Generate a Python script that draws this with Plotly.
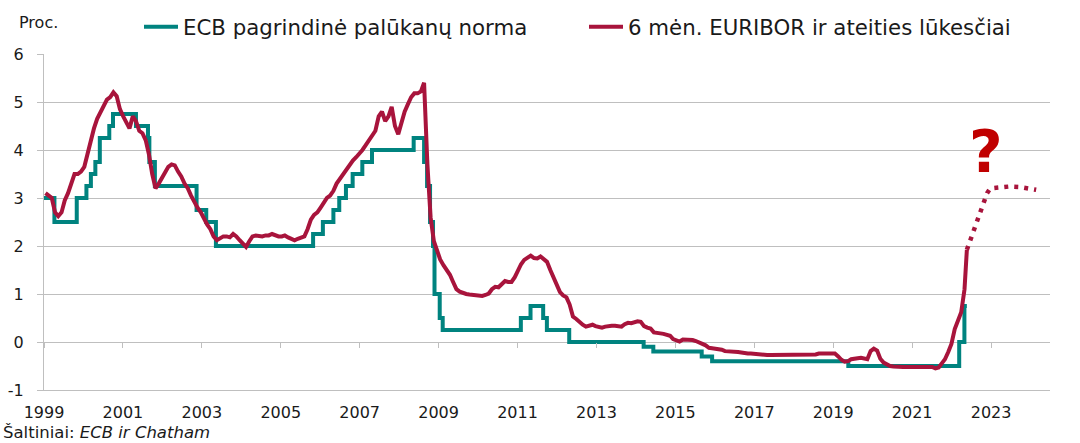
import plotly.graph_objects as go

# ---------------- DATA ----------------
# ECB policy rate: dates of change and new level (step series)
ecb_dates = [
    "1999-01-01", "1999-04-09", "1999-11-05", "2000-02-04", "2000-03-17", "2000-04-28",
    "2000-06-09", "2000-09-06", "2000-10-11", "2001-05-15", "2001-09-05", "2001-09-18",
    "2001-11-09", "2002-12-06", "2003-03-07", "2003-06-06", "2005-12-06", "2006-03-08",
    "2006-06-15", "2006-08-09", "2006-10-11", "2006-12-13", "2007-03-14", "2007-06-13",
    "2008-07-09", "2008-10-15", "2008-11-12", "2008-12-10", "2009-01-07", "2009-01-21",
    "2009-03-11", "2009-04-08", "2011-04-13", "2011-07-13", "2011-11-09", "2011-12-14",
    "2012-07-11", "2014-06-11", "2014-09-10", "2015-12-09", "2016-03-16", "2019-09-18",
    "2022-07-27", "2022-09-14", "2022-10-07",
]
ecb_rate = [
    3.00, 2.50, 3.00, 3.25, 3.50, 3.75,
    4.25, 4.50, 4.75, 4.50, 4.25, 3.75,
    3.25, 2.75, 2.50, 2.00, 2.25, 2.50,
    2.75, 3.00, 3.25, 3.50, 3.75, 4.00,
    4.25, 3.75, 3.25, 2.50, 2.00, 1.00,
    0.50, 0.25, 0.50, 0.75, 0.50, 0.25,
    0.00, -0.10, -0.20, -0.30, -0.40, -0.50,
    0.00, 0.75, 0.75,
]

# 6-month EURIBOR, monthly (mid-month) readings, per year
euribor_years = list(range(1999, 2023))
euribor_monthly = {
    1999: [3.10, 3.05, 3.00, 2.70, 2.62, 2.70, 2.95, 3.10, 3.30, 3.50, 3.50, 3.55],
    2000: [3.65, 3.95, 4.15, 4.45, 4.65, 4.80, 4.95, 5.05, 5.10, 5.20, 5.12, 4.85],
    2001: [4.70, 4.55, 4.45, 4.70, 4.60, 4.40, 4.35, 4.20, 3.90, 3.50, 3.20, 3.30],
    2002: [3.42, 3.50, 3.65, 3.70, 3.68, 3.55, 3.45, 3.30, 3.20, 3.05, 2.90, 2.80],
    2003: [2.70, 2.55, 2.45, 2.35, 2.20, 2.12, 2.15, 2.20, 2.20, 2.18, 2.25, 2.20],
    2004: [2.12, 2.05, 1.98, 2.10, 2.20, 2.22, 2.20, 2.20, 2.22, 2.22, 2.25, 2.22],
    2005: [2.20, 2.20, 2.22, 2.18, 2.15, 2.12, 2.15, 2.18, 2.20, 2.35, 2.55, 2.65],
    2006: [2.70, 2.80, 2.90, 3.00, 3.05, 3.15, 3.30, 3.40, 3.50, 3.60, 3.70, 3.78],
    2007: [3.85, 3.92, 4.00, 4.10, 4.20, 4.32, 4.40, 4.70, 4.80, 4.60, 4.70, 4.90],
    2008: [4.50, 4.33, 4.60, 4.80, 4.95, 5.10, 5.18, 5.18, 5.22, 5.40, 3.70, 2.60],
    2009: [2.10, 1.90, 1.72, 1.60, 1.50, 1.40, 1.25, 1.10, 1.05, 1.02, 1.00, 0.99],
    2010: [0.98, 0.97, 0.95, 0.96, 0.98, 1.01, 1.10, 1.15, 1.14, 1.22, 1.27, 1.25],
    2011: [1.25, 1.35, 1.48, 1.62, 1.71, 1.75, 1.80, 1.75, 1.74, 1.78, 1.71, 1.67],
    2012: [1.50, 1.35, 1.16, 1.04, 0.97, 0.93, 0.78, 0.53, 0.48, 0.41, 0.36, 0.32],
    2013: [0.34, 0.36, 0.33, 0.32, 0.30, 0.32, 0.34, 0.34, 0.34, 0.34, 0.32, 0.37],
    2014: [0.40, 0.39, 0.41, 0.43, 0.42, 0.33, 0.30, 0.28, 0.20, 0.18, 0.18, 0.17],
    2015: [0.15, 0.13, 0.06, 0.03, 0.01, 0.05, 0.05, 0.04, 0.04, 0.02, -0.02, -0.04],
    2016: [-0.07, -0.12, -0.13, -0.14, -0.14, -0.16, -0.19, -0.19, -0.20, -0.21, -0.21, -0.22],
    2017: [-0.24, -0.24, -0.24, -0.25, -0.25, -0.27, -0.27, -0.27, -0.27, -0.27, -0.27, -0.27],
    2018: [-0.27, -0.27, -0.27, -0.27, -0.27, -0.27, -0.27, -0.27, -0.27, -0.26, -0.26, -0.24],
    2019: [-0.24, -0.23, -0.23, -0.23, -0.24, -0.30, -0.37, -0.41, -0.40, -0.36, -0.34, -0.34],
    2020: [-0.33, -0.35, -0.36, -0.19, -0.14, -0.18, -0.35, -0.43, -0.47, -0.50, -0.51, -0.52],
    2021: [-0.53, -0.52, -0.52, -0.52, -0.51, -0.52, -0.51, -0.52, -0.52, -0.53, -0.52, -0.55],
    2022: [-0.53, -0.44, -0.36, -0.21, -0.04, 0.27, 0.47, 0.62, 1.10],
}
euribor_last_date = "2022-10-07"
euribor_last_value = 1.92

# Market expectations (forecast, dotted)
fcst_dates = ["2022-10-07", "2022-11-15", "2022-12-15", "2023-01-15", "2023-02-15",
              "2023-03-15", "2023-04-15", "2023-05-15", "2023-08-15", "2023-11-15",
              "2024-02-15", "2024-05-15", "2024-07-20"]
fcst_values = [1.92, 2.15, 2.35, 2.55, 2.75, 2.92, 3.10, 3.20, 3.22, 3.24, 3.23, 3.20, 3.17]

# Axis / text
y_ticks = [-1, 0, 1, 2, 3, 4, 5, 6]
y_tick_text = ["-1", "0", "1", "2", "3", "4", "5", "6"]
x_tick_start = "1999-01-01"
x_tick_step_days = 742.3
x_range = ["1999-01-01", "2024-11-27"]
legend_ecb = "ECB pagrindinė palūkanų norma"
legend_eur = "6 mėn. EURIBOR ir ateities lūkesčiai"
y_title = "Proc."
source_text = "Šaltiniai: <i>ECB ir Chatham</i>"
question_date = "2023-04-05"
question_value = 3.96

# ---------------- BUILD ----------------
eur_dates, eur_values = [], []
for yr in euribor_years:
    for m, v in enumerate(euribor_monthly[yr], start=1):
        eur_dates.append(f"{yr}-{m:02d}-15")
        eur_values.append(v)
eur_dates.append(euribor_last_date)
eur_values.append(euribor_last_value)

TEAL = "#00837F"
RED = "#A8143C"
GRID = "#BFBFBF"
FONT = "DejaVu Sans"
TXT = "#1a1a1a"

fig = go.Figure()
fig.add_trace(go.Scatter(x=ecb_dates, y=ecb_rate, mode="lines", name=legend_ecb,
                         line=dict(color=TEAL, width=4, shape="hv")))
fig.add_trace(go.Scatter(x=eur_dates, y=eur_values, mode="lines", name=legend_eur,
                         line=dict(color=RED, width=4)))
fig.add_trace(go.Scatter(x=fcst_dates, y=fcst_values, mode="lines", showlegend=False,
                         line=dict(color=RED, width=4.5, dash="4px,6px")))
# invisible trace so that the tick-mark axis on the zero line is drawn
fig.add_trace(go.Scatter(x=[ecb_dates[0]], y=[ecb_rate[0]], xaxis="x2", mode="markers",
                         marker=dict(opacity=0), showlegend=False, hoverinfo="skip"))

dtick_ms = x_tick_step_days * 86400000
fig.update_layout(
    width=1080, height=443,
    margin=dict(l=44, r=30, t=54, b=53, autoexpand=False),
    paper_bgcolor="white", plot_bgcolor="white",
    font=dict(family=FONT, size=16, color=TXT),
    showlegend=True,
    legend=dict(orientation="h", xref="container", yref="container",
                x=139 / 1080, xanchor="left", y=1 - 27 / 443, yanchor="middle",
                font=dict(size=21.3, family=FONT, color=TXT), bgcolor="rgba(0,0,0,0)",
                entrywidth=396, entrywidthmode="pixels", itemwidth=34),
    xaxis=dict(type="date", range=x_range, tick0=x_tick_start, dtick=dtick_ms,
               tickformat="%Y", showgrid=False, zeroline=False, automargin=False,
               showline=True, linecolor=GRID, linewidth=1, ticks="",
               ticklabelstandoff=8, tickfont=dict(size=16, family=FONT, color=TXT)),
    xaxis2=dict(type="date", overlaying="x", matches="x", anchor="free", position=1 / 7,
                side="bottom", tick0=x_tick_start, dtick=dtick_ms, ticks="outside",
                ticklen=5, tickcolor=GRID, tickwidth=1, showticklabels=False,
                showgrid=False, zeroline=False, showline=False, automargin=False),
    yaxis=dict(range=[-1, 6], tickvals=y_ticks, ticktext=y_tick_text, showgrid=True,
               gridcolor=GRID, automargin=False,
               gridwidth=1, zeroline=False, showline=True, linecolor=GRID, linewidth=1,
               ticks="outside", ticklen=6, tickcolor=GRID, ticklabelstandoff=10,
               tickfont=dict(size=16, family=FONT, color=TXT)),
    annotations=[
        dict(text=y_title, xref="paper", yref="paper", x=0, y=1, xanchor="left",
             yanchor="middle", xshift=-27, yshift=32, showarrow=False,
             font=dict(size=16, family=FONT, color=TXT)),
        dict(text=source_text, xref="paper", yref="paper", x=0, y=0, xanchor="left",
             yanchor="middle", xshift=-43, yshift=-42, showarrow=False,
             font=dict(size=16.5, family=FONT, color=TXT)),
        dict(text="<b>?</b>", x=question_date, y=question_value, xref="x", yref="y",
             showarrow=False, font=dict(size=58, family=FONT, color="#C00000")),
    ],
)

fig.write_html("out.html", config={"displayModeBar": False},
               post_script="document.body.style.margin='0';")
